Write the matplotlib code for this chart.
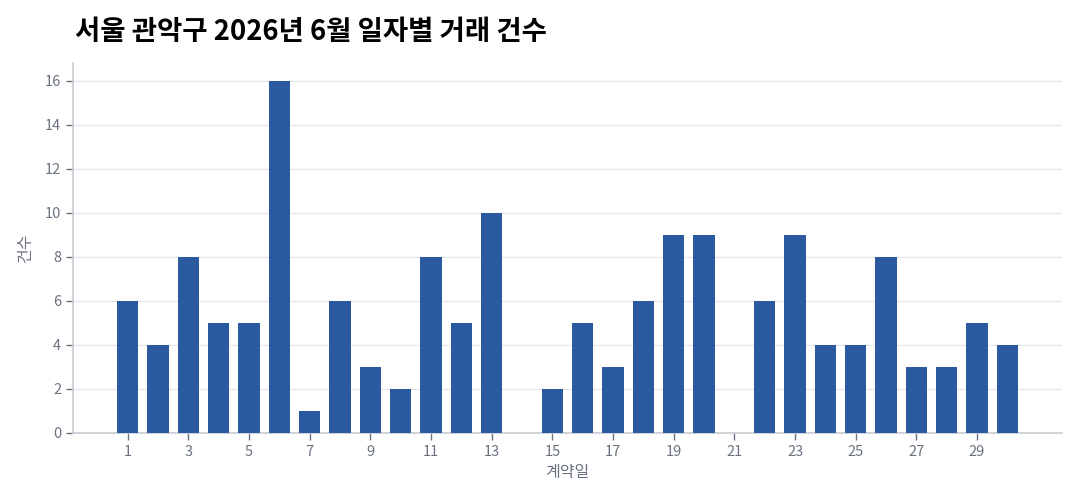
import matplotlib
matplotlib.use("Agg")
import matplotlib.pyplot as plt

plt.rcParams['font.family'] = ['Noto Sans CJK KR', 'DejaVu Sans']

days = list(range(1, 31))
counts = [6, 4, 8, 5, 5, 16, 1, 6, 3, 2, 8, 5, 10, 0, 2, 5, 3, 6, 9, 9, 0, 6, 9, 4, 4, 8, 3, 3, 5, 4]
xticks = list(range(1, 30, 2))
yticks = list(range(0, 17, 2))
title = "서울 관악구 2026년 6월 일자별 거래 건수"
xlabel = "계약일"
ylabel = "건수"

fig = plt.figure(figsize=(10.8, 5.04), dpi=100)
ax = fig.add_axes([73/1080, 1-433/504, (1062-73)/1080, (433-63)/504])

ax.bar(days, counts, width=0.7, color='#2c5aa0', zorder=3)
ax.set_xlim(-0.8, 31.8)
ax.set_ylim(0, 16.8)
ax.set_xticks(xticks)
ax.set_yticks(yticks)
ax.grid(axis='y', color='#e8e8ec', linewidth=1, zorder=0)
for s in ['top', 'right']:
    ax.spines[s].set_visible(False)
for s in ['left', 'bottom']:
    ax.spines[s].set_color('#c8ccd4')
    ax.spines[s].set_linewidth(1.2)
ax.tick_params(axis='both', colors='#6b7280', labelsize=10.5, length=5, width=1)
ax.set_xlabel(xlabel, fontsize=11.5, color='#6b7280', labelpad=4)
ax.set_ylabel(ylabel, fontsize=11.5, color='#6b7280', labelpad=8)

t = fig.text(75/1080, 1-32/504, title, fontsize=19.8, fontweight='bold', color='black', va='center', ha='left')

fig.savefig('out.png', dpi=100)
